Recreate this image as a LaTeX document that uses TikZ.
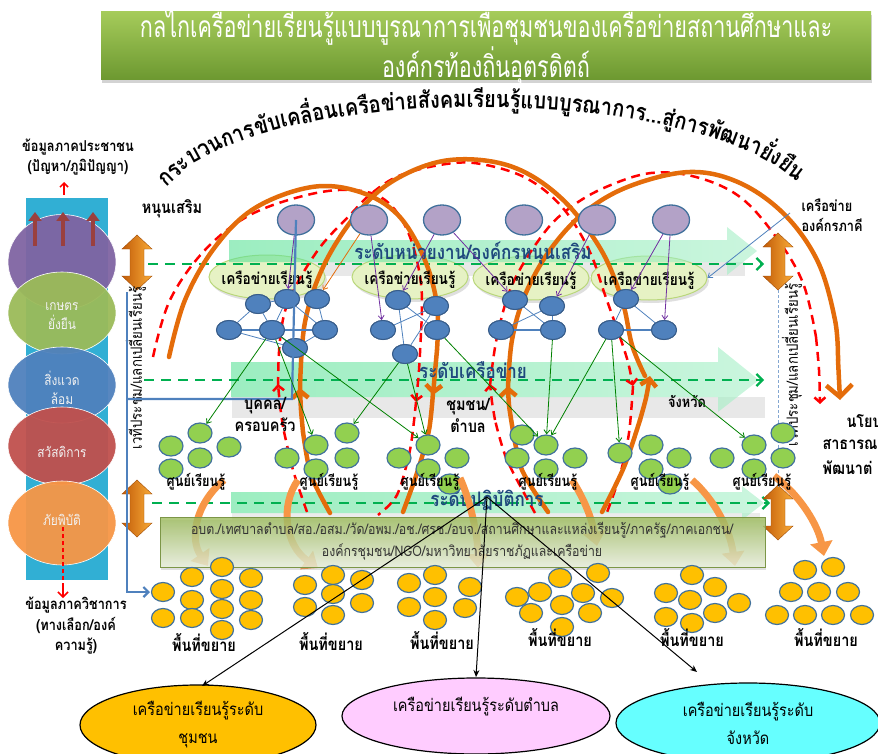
\documentclass[tikz,border=0pt]{standalone}
\usepackage{fontspec}
\setmainfont[Script=Thai]{Loma}
\newfontfamily\thaic[Script=Thai,FakeStretch=0.85]{Loma}
\newfontfamily\thaititle[Script=Thai,FakeStretch=0.72]{Loma}
\usetikzlibrary{arrows.meta,decorations.markings,shapes.geometric,shadows}
\definecolor{titleA}{HTML}{A5CB5A}
\definecolor{titleB}{HTML}{6C9830}
\definecolor{cyanbar}{HTML}{31AFD4}
\definecolor{cpurple}{HTML}{8064A2}
\definecolor{cgreen}{HTML}{9BBB59}
\definecolor{cblue}{HTML}{4F81BD}
\definecolor{cred}{HTML}{C0504D}
\definecolor{corange}{HTML}{F79646}
\definecolor{arcorange}{HTML}{E46C0A}
\definecolor{lilacfill}{HTML}{B3A2C7}
\definecolor{nodeblue}{HTML}{4F81BD}
\definecolor{nodeblueD}{HTML}{385D8A}
\definecolor{leafgreen}{HTML}{92D050}
\definecolor{goldfill}{HTML}{FFC000}
\definecolor{rimblue}{HTML}{41719C}
\definecolor{bandgreen}{HTML}{3DDC84}
\definecolor{bandtext}{HTML}{1F497D}
\definecolor{dashgreen}{HTML}{00B050}
\definecolor{lightleaf}{HTML}{E6F2C4}
\definecolor{leafrim}{HTML}{B9D77A}
\definecolor{olivefill}{HTML}{9BBB59}
\definecolor{pinkfill}{HTML}{FFCCFF}
\definecolor{cyanfill}{HTML}{66FFFF}
\definecolor{darkgreen}{HTML}{008000}
\definecolor{arrowpurple}{HTML}{7030A0}
\definecolor{linkblue}{HTML}{4F81BD}
\newcommand\arcfont{\thaic\bfseries\fontsize{23.5}{25}\selectfont}
\newlength\arcacc
\newlength\arcw
\newcommand\measurechunk[2]{%
  \settowidth\arcw{\arcfont #2}%
  \expandafter\xdef\csname arcpos#1\endcsname{\the\dimexpr\arcacc+0.5\arcw\relax}%
  \global\advance\arcacc by \arcw}
\begin{document}%
\global\arcacc=18pt
\measurechunk{a}{กระ}\measurechunk{b}{บวน}\measurechunk{c}{การ}\measurechunk{d}{ขับ}%
\measurechunk{e}{เคลื่อน}\measurechunk{f}{เครือ}\measurechunk{g}{ข่าย}\measurechunk{h}{สังคม}%
\measurechunk{i}{เรียน}\measurechunk{j}{รู้}\measurechunk{k}{แบบ}\measurechunk{l}{บูรณา}%
\measurechunk{m}{การ...}\measurechunk{n}{สู่}\measurechunk{o}{การ}\measurechunk{p}{พัฒนา}%
\measurechunk{q}{ยั่ง}\measurechunk{r}{ยืน}%
\begin{tikzpicture}[x=1pt,y=-1pt,
  lilac/.style={ellipse, minimum width=37pt, minimum height=30pt, inner sep=0pt, fill=lilacfill, draw=rimblue, line width=1.3pt},
  netnode/.style={ellipse, minimum width=25pt, minimum height=19pt, inner sep=0pt, fill=nodeblue, draw=nodeblueD, line width=1pt},
  leaf/.style={ellipse, minimum width=24pt, minimum height=20pt, inner sep=0pt, fill=leafgreen, draw=rimblue, line width=1.2pt},
  goldc/.style={ellipse, minimum width=23pt, minimum height=19pt, inner sep=0pt, fill=goldfill, draw=rimblue, line width=1.2pt},
  bigcirc/.style={ellipse, minimum width=108pt, inner sep=0pt, draw=white, line width=0.6pt, fill opacity=0.95},
  circtext/.style={font=\thaic\fontsize{14}{17}\selectfont, text=white!90!gray, align=center},
  netnet/.style={draw=linkblue, line width=0.8pt},
  thick net/.style={draw=linkblue, line width=1.8pt},
  purplearrow/.style={draw=arrowpurple, line width=0.8pt, -{Straight Barb[length=4pt,width=6pt]}},
  greenarrow/.style={draw=darkgreen, line width=0.8pt, -{Straight Barb[length=4pt,width=6pt]}},
  arcO/.style={draw=arcorange, line width=4.5pt, line cap=round},
  arcOtip/.style={arcO, -{Straight Barb[length=7pt,width=16pt]}},
  dashR/.style={draw=red, line width=2.5pt, dash pattern=on 9pt off 6pt},
  dashRtip/.style={dashR, -{Straight Barb[length=5pt,width=11pt]}},
  greendash/.style={draw=dashgreen, line width=2.2pt, dash pattern=on 10pt off 7pt},
  greendashtip/.style={greendash, -{Straight Barb[length=6pt,width=12pt]}},
  bandfill/.style={left color=bandgreen!85, right color=bandgreen!45, fill opacity=0.6, draw=none},
  bandlabel/.style={font=\thaic\bfseries\fontsize{20}{22}\selectfont, text=bandtext},
  lvl/.style={font=\thaic\bfseries\fontsize{17}{22}\selectfont, align=center},
  centre/.style={font=\thaic\bfseries\fontsize{15}{17}\selectfont},
  area/.style={font=\thaic\bfseries\fontsize{17}{19}\selectfont},
  smalltxt/.style={font=\thaic\bfseries\fontsize{15}{20.5}\selectfont},
  arct/.style={transform shape, anchor=base, inner sep=0pt, font=\arcfont},
  bendarrow/.style={draw=corange, line width=7pt, -{Triangle[width=22pt,length=14pt]}},
  blackarrow/.style={draw=black, line width=1pt, -{Stealth[length=7pt,width=6pt]}},
  bottomell/.style={ellipse, draw=black, line width=1.2pt, inner sep=0pt, align=center, font=\thaic\fontsize{17}{28}\selectfont}
]
\useasboundingbox (0,0) rectangle (878,754);
\clip (0,0) rectangle (878,754);

% ---------------- title ----------------
\node[draw=none, top color=titleA, bottom color=titleB, minimum width=770pt, minimum height=68pt,
      drop shadow={shadow xshift=1pt, shadow yshift=-3pt, opacity=0.35}] (title) at (486,46) {};
\node[text=white, font=\thaititle\fontsize{30}{38}\selectfont, align=center] (titletext) at (486,46)
  {กลไกเครือข่ายเรียนรู้แบบบูรณาการเพื่อชุมชนของเครือข่ายสถานศึกษาและ\\องค์กรท้องถิ่นอุตรดิตถ์};

% ---------------- curved heading (chunks placed by measured width) ----------------
\path[postaction={decorate, decoration={markings,
  mark=at position \arcposa with {\node[arct] {กระ};},
  mark=at position \arcposb with {\node[arct] {บวน};},
  mark=at position \arcposc with {\node[arct] {การ};},
  mark=at position \arcposd with {\node[arct] {ขับ};},
  mark=at position \arcpose with {\node[arct] {เคลื่อน};},
  mark=at position \arcposf with {\node[arct] {เครือ};},
  mark=at position \arcposg with {\node[arct] {ข่าย};},
  mark=at position \arcposh with {\node[arct] {สังคม};},
  mark=at position \arcposi with {\node[arct] {เรียน};},
  mark=at position \arcposj with {\node[arct] {รู้};},
  mark=at position \arcposk with {\node[arct] {แบบ};},
  mark=at position \arcposl with {\node[arct] {บูรณา};},
  mark=at position \arcposm with {\node[arct] {การ...};},
  mark=at position \arcposn with {\node[arct] {สู่};},
  mark=at position \arcposo with {\node[arct] {การ};},
  mark=at position \arcposp with {\node[arct] {พัฒนา};},
  mark=at position \arcposq with {\node[arct] {ยั่ง};},
  mark=at position \arcposr with {\node[arct] {ยืน};}
  }}] (160,205) .. controls (200,75) and (750,75) .. (815,205);

% ---------------- left column ----------------
\node[smalltxt, align=center] (peopledata) at (78,157) {ข้อมูลภาคประชาชน\\(ปัญหา/ภูมิปัญญา)};
\draw[red, line width=1.5pt, -{Straight Barb[length=4pt,width=8pt]}] (64,195) -- (64,182);
\fill[cyanbar] (26,198) rectangle (108,580);
\node[bigcirc, fill=cpurple, minimum height=95pt] (cpur) at (62,262) {};
\node[bigcirc, fill=cgreen, minimum height=82pt] (cgre) at (62,313) {};
\node[bigcirc, fill=cblue, minimum height=76pt] (cblu) at (62,385) {};
\node[bigcirc, fill=cred, minimum height=78pt] (cre) at (62,446) {};
\node[bigcirc, fill=corange, minimum height=84pt] (cora) at (62,523) {};
\foreach \ax in {35,63,93}
  \draw[draw=cred!80!black, line width=4pt, -{Triangle[width=13pt,length=9pt]}] (\ax,246) -- (\ax,212);
\node[circtext] (t1) at (62,316) {เกษตร\\[2pt]ยั่งยืน};
\node[circtext] (t2) at (62,388) {สิ่งแวด\\[2pt]ล้อม};
\node[circtext] (t3) at (62,452) {สวัสดิการ};
\node[circtext] (t4) at (62,520) {ภัยพิบัติ};
\draw[red, line width=1.5pt, dash pattern=on 4pt off 3pt] (63,527) -- (63,586);
\draw[red, line width=1.5pt, -{Straight Barb[length=5pt,width=10pt]}] (63,586) -- (63,598);
\node[smalltxt, align=center] (acadata) at (76,626) {ข้อมูลภาควิชาการ\\(ทางเลือก/องค์\\ความรู้)};

% ---------------- bands ----------------
\fill[gray, opacity=0.18] (232,262) rectangle (745,276);
\fill[gray, opacity=0.18] (232,397) rectangle (765,418);
\fill[gray, opacity=0.15] (232,513) rectangle (760,520);

\foreach \cx/\cy/\nm in {267/277/L1, 410/277/L2, 531/278/L3, 649/278/L4}
  \node[ellipse, minimum width=116pt, minimum height=44pt, fill=lightleaf, draw=leafrim, line width=1pt,
        drop shadow={shadow xshift=2pt, shadow yshift=-3pt, opacity=0.25}] (\nm) at (\cx,\cy) {};

\path[bandfill] (229,240) -- (727,240) -- (727,227) -- (757,251) -- (727,275) -- (727,262) -- (229,262) -- cycle;
\path[bandfill] (231,362) -- (718,362) -- (718,347) -- (759,380) -- (718,412) -- (718,397) -- (231,397) -- cycle;
\path[bandfill] (231,492) -- (742,492) -- (742,486) -- (764,503) -- (742,520) -- (742,513) -- (231,513) -- cycle;

\draw[greendashtip] (148,264) -- (764,264);
\draw[greendashtip] (144,380) -- (764,380);
\draw[greendashtip] (152,503) -- (770,503);

% ---------------- orange and red loops ----------------
\draw[dashR] plot[smooth, tension=0.6] coordinates {(153,357) (170,300) (205,250) (250,215) (307,195) (352,190) (385,200) (408,232) (421,283) (421,333)};
\draw[dashRtip] plot[smooth] coordinates {(421,333) (419,370) (416,402)};
\draw[dashR] plot[smooth] coordinates {(416,402) (410,450) (397,495) (378,515)};
\draw[dashR] plot[smooth] coordinates {(307,512) (293,470) (283,427)};
\draw[dashRtip] plot[smooth] coordinates {(283,427) (280,405) (278,384)};
\draw[dashR] plot[smooth, tension=0.6] coordinates {(278,386) (280,340) (289,300) (318,250) (350,215) (372,193) (401,175) (446,164) (481,164) (526,178) (562,207) (589,250) (605,295) (620,337)};
\draw[dashRtip] plot[smooth] coordinates {(620,337) (628,362) (633,386)};
\draw[dashR] plot[smooth] coordinates {(633,386) (629,433) (620,475) (606,515)};
\draw[dashR] plot[smooth] coordinates {(535,513) (507,460) (495,420)};
\draw[dashRtip] plot[smooth] coordinates {(495,420) (492,402) (490,384)};
\draw[dashR] plot[smooth, tension=0.6] coordinates {(490,386) (497,337) (513,283) (544,233) (571,207) (606,187) (651,173) (696,177) (740,197) (776,237) (803,283) (816,337)};
\draw[dashRtip] plot[smooth] coordinates {(816,337) (819,370) (820,404)};

\draw[arcO] plot[smooth, tension=0.6] coordinates {(169,357) (185,300) (215,247) (255,208) (312,187) (360,192) (398,215) (424,258) (437,305) (437,350)};
\draw[arcOtip] plot[smooth] coordinates {(437,350) (435,372) (433,395)};
\draw[arcO] plot[smooth] coordinates {(433,393) (429,430) (418,470) (403,512)};
\draw[arcO] plot[smooth] coordinates {(330,513) (311,475) (303,432)};
\draw[arcOtip] plot[smooth] coordinates {(303,432) (301,410) (300,388)};
\draw[arcO] plot[smooth, tension=0.6] coordinates {(300,390) (305,322) (325,263) (360,210) (398,178) (450,160) (510,166) (560,197) (600,248) (622,300) (632,345) (645,376)};
\draw[arcO] plot[smooth] coordinates {(602,512) (624,467) (640,420)};
\draw[arcOtip] plot[smooth] coordinates {(640,420) (646,398) (650,376)};
\draw[arcO] plot[smooth] coordinates {(548,512) (522,470) (512,425)};
\draw[arcOtip] plot[smooth] coordinates {(512,425) (509,405) (508,386)};
\draw[arcO] plot[smooth, tension=0.6] coordinates {(508,388) (512,340) (525,295) (550,250) (585,212) (630,186) (690,172) (740,183) (785,215) (818,262) (835,320) (838,360)};
\draw[arcO, -{Straight Barb[length=12pt,width=26pt]}] plot[smooth] coordinates {(838,360) (839,380) (840,400)};

% ---------------- band labels ----------------
\node[bandlabel] (lvl1) at (473,253) {ระดับหน่วยงาน/องค์กรหนุนเสริม};
\node[bandlabel] (lvl2) at (473,370) {ระดับเครือข่าย};
\node[bandlabel] (lvl3) at (487,500) {ระดับปฏิบัติการ};

\foreach \nm in {L1,L2,L3,L4}
  \node[font=\thaic\bfseries\fontsize{16}{18}\selectfont] at ([yshift=-3pt]\nm.center) {เครือข่ายเรียนรู้};

% ---------------- side arrows and vertical text ----------------
\foreach \xx/\ya/\yb in {137/235/290, 137/480/537, 778/233/290, 778/485/540}{
  \path[left color=arcorange!85!black, right color=corange!80!yellow, draw=arcorange!70!black, line width=0.4pt]
    (\xx,\ya) -- (\xx+15,\ya+14) -- (\xx+7,\ya+14) -- (\xx+7,\yb-14) -- (\xx+15,\yb-14) -- (\xx,\yb)
    -- (\xx-15,\yb-14) -- (\xx-7,\yb-14) -- (\xx-7,\ya+14) -- (\xx-15,\ya+14) -- cycle;
}
\node[font=\thaic\fontsize{15.5}{17}\selectfont, rotate=90] (vtl) at (136,368) {เวทีประชุม/แลกเปลี่ยนเรียนรู้};
\draw[draw=linkblue!70, line width=0.8pt, dash pattern=on 3pt off 2pt] (778,290) -- (778,487);
\node[font=\thaic\fontsize{15.5}{17}\selectfont, rotate=90] (vtr) at (792,365) {เวทีประชุม/แลกเปลี่ยนเรียนรู้};

\node[font=\thaic\bfseries\fontsize{17}{19}\selectfont] (support) at (172,209) {หนุนเสริม};
\node[font=\thaic\bfseries\fontsize{15}{20}\selectfont, anchor=west, align=left] (partner) at (798,215) {เครือข่าย\\องค์กรภาคี};

% ---------------- top nodes ----------------
\foreach \px [count=\i] in {296,369,442,524,597,671}
  \node[lilac] (P\i) at (\px,220) {};

% ---------------- network nodes ----------------
\node[netnode] (A1) at (258,304) {};
\node[netnode] (A2) at (287,299) {};
\node[netnode] (A3) at (317,299) {};
\node[netnode] (A4) at (229,330) {};
\node[netnode] (A5) at (272,330) {};
\node[netnode] (A6) at (325,330) {};
\node[netnode] (A7) at (295,348) {};
\node[netnode] (B1) at (398,300) {};
\node[netnode] (B2) at (436,306) {};
\node[netnode] (B3) at (383,330) {};
\node[netnode] (B4) at (437,330) {};
\node[netnode] (B5) at (405,354) {};
\node[netnode] (C1) at (515,300) {};
\node[netnode] (C2) at (552,306) {};
\node[netnode] (C3) at (501,330) {};
\node[netnode] (C4) at (553,330) {};
\node[netnode] (D1) at (626,299) {};
\node[netnode] (D2) at (611,330) {};
\node[netnode] (D3) at (664,330) {};

\draw[netnet] (A1) -- (A4);
\draw[netnet] (A1) -- (A2);
\draw[netnet] (A2) -- (A5);
\draw[netnet] (A3) -- (A6);
\draw[netnet] (A2) -- (A6);
\draw[netnet] (A1) -- (A5);
\draw[netnet] (A5) -- (A7);
\draw[netnet] (A4) -- (A7);
\draw[netnet] (A6) -- (A7);
\draw[thick net] (A4) -- (A5);
\draw[thick net] (A5) -- (A6);
\draw[netnet] (B1) -- (B5);
\draw[netnet] (B3) -- (B2);
\draw[netnet] (B1) -- (B4);
\draw[netnet] (B2) -- (B5);
\draw[netnet] (C3) -- (C2);
\draw[netnet] (C1) -- (C4);
\draw[netnet] (C2) -- (C4);
\draw[thick net] (C3) -- (C4);
\draw[netnet] (D1) -- (D2);
\draw[netnet] (D1) -- (D3);
\draw[thick net] (D2) -- (D3);
\foreach \nm in {A1,A2,A3,A4,A5,A6,A7,B1,B2,B3,B4,B5,C1,C2,C3,C4,D1,D2,D3}
  \node[netnode] at (\nm.center) {};

% blue feedback line
\coordinate (bl1) at (292,399);
\coordinate (bl2) at (127,399);
\coordinate (bl3) at (127,292);
\coordinate (bl4) at (127,592);
\coordinate (bl5) at (150,592);
\draw[draw=linkblue, line width=2.2pt] (P1.center) -- (bl1) -- (bl2);
\draw[draw=linkblue, line width=2.2pt, -{Straight Barb[length=5pt,width=10pt]}] (bl3) -- (bl4) -- (bl5);

% arrows from top nodes
\draw[purplearrow] (P1) -- (A2);
\draw[draw=arcorange, line width=0.8pt, -{Straight Barb[length=4pt,width=6pt]}] (P2) -- (A3);
\draw[purplearrow] (P2) -- (B3);
\draw[purplearrow] (P3) -- (B1);
\draw[purplearrow] (P3) -- (C1);
\draw[purplearrow] (P5) -- (C2);
\draw[purplearrow] (P6) -- (D1);
\draw[purplearrow] (P6) -- (D3);
\coordinate (partnerfrom) at (790,213);
\draw[draw=linkblue, line width=0.8pt, -{Straight Barb[length=4pt,width=6pt]}] (partnerfrom) -- (L4.east);

% ---------------- level words ----------------
\node[lvl] (lv1) at (265,414) {บุคคล/\\ครอบครัว};
\node[lvl] (lv2) at (468,415) {ชุมชน/\\ตำบล};
\node[lvl, font=\thaic\bfseries\fontsize{15}{17}\selectfont] (lv3) at (687,401) {จังหวัด};
\node[lvl, anchor=west] (pol1) at (843,421) {นโยบ};
\node[lvl, anchor=west] (pol2) at (819,445) {สาธารณ};
\node[lvl, anchor=west] (pol3) at (819,468) {พัฒนาต่};

% ---------------- green circles ----------------
\foreach \gx/\gy [count=\i] in {200/433, 171/446, 229/447, 200/458, 171/469,
   287/458, 316/445, 347/433, 347/458, 316/469,
   399/458, 428/445, 457/458, 428/469, 450/484,
   522/435, 546/445, 517/458, 575/458, 546/469,
   620/453, 651/445, 679/458, 651/469, 670/484,
   722/458, 754/445, 783/433, 783/458, 754/469}
  \node[leaf] (G\i) at (\gx,\gy) {};

\draw[greenarrow] (A5) -- (G1);
\draw[greenarrow] (A5) -- (G7);
\draw[greenarrow] (A5) -- (G12);
\draw[greenarrow] (B5) -- (G8);
\draw[greenarrow] (B5) -- (G12);
\draw[greenarrow] (B4) -- (G17);
\draw[greenarrow] (C4) -- (G17);
\draw[greenarrow] (D2) -- (G17);
\draw[greenarrow] (D2) -- (G21);
\draw[greenarrow] (D2) -- (G27);

% ---------------- bending arrows and partner band ----------------
\coordinate (ba1s) at (224,480); \coordinate (ba1e) at (208,566);
\coordinate (ba2s) at (298,480); \coordinate (ba2e) at (318,568);
\coordinate (ba3s) at (460,478); \coordinate (ba3e) at (478,568);
\coordinate (ba4s) at (572,480); \coordinate (ba4e) at (597,546);
\coordinate (ba5s) at (692,480); \coordinate (ba5e) at (735,566);
\coordinate (ba6s) at (774,476); \coordinate (ba6e) at (824,556);
\draw[bendarrow] (ba1s) .. controls (194,505) and (190,540) .. (ba1e);
\draw[bendarrow] (ba2s) .. controls (280,505) and (285,545) .. (ba2e);
\draw[bendarrow] (ba3s) .. controls (470,500) and (478,535) .. (ba3e);
\draw[bendarrow] (ba4s) .. controls (585,500) and (592,520) .. (ba4e);
\draw[bendarrow] (ba5s) .. controls (715,500) and (730,530) .. (ba5e);
\draw[bendarrow] (ba6s) .. controls (800,495) and (818,525) .. (ba6e);

\foreach \lx [count=\i] in {196,329,430,548,660,762}
  \node[centre] (LC\i) at (\lx,482) {ศูนย์เรียนรู้};

\path[top color=olivefill, bottom color=olivefill!20, fill opacity=0.8, draw=olivefill!80!black, line width=0.5pt,
      drop shadow={shadow xshift=1pt, shadow yshift=-3pt, opacity=0.25}] (160,517) rectangle (765,567);
\node[font=\thaic\fontsize{14.5}{22}\selectfont, text=black!80, align=center] (partners) at (462,541)
  {อบต./เทศบาลตำบล/สอ./อสม./วัด/อพม./อช./ศรช./อบจ./สถานศึกษาและแหล่งเรียนรู้/ภาครัฐ/ภาคเอกชน/\\องค์กรชุมชน/NGO/มหาวิทยาลัยราชภัฏและเครือข่าย};

% ---------------- yellow circles ----------------
\foreach \yx/\yy in {163/592, 192/577, 222/567, 251/578, 192/600, 222/589, 251/600, 163/618, 192/618, 222/609, 251/620, 222/630,
   305/585, 333/575, 362/580, 305/607, 333/594, 362/603, 333/615,
   409/583, 435/575, 470/587, 409/607, 435/597, 465/608, 435/620,
   517/597, 540/592, 560/578, 598/573, 583/593, 612/598, 531/613, 562/605, 590/613, 562/627,
   666/593, 692/575, 715/587, 739/603, 690/600, 666/617, 715/613, 692/623,
   805/570, 833/567, 791/592, 819/592, 848/592, 777/615, 805/615, 833/615, 862/615}
  \node[goldc] at (\yx,\yy) {};

\foreach \ex/\ey [count=\i] in {204/643, 331/642, 442/641, 560/638, 692/638, 826/638}
  \node[area] (E\i) at (\ex,\ey) {พื้นที่ขยาย};

% ---------------- bottom ellipses ----------------
\node[bottomell, fill=goldfill, minimum width=236pt, minimum height=80pt] (ell1) at (198,725) {เครือข่ายเรียนรู้ระดับ\\ชุมชน};
\node[bottomell, fill=pinkfill, minimum width=268pt, minimum height=76pt] (ell2) at (476,716) {};
\node[font=\thaic\fontsize{17}{19}\selectfont] (ell2t) at (476,707) {เครือข่ายเรียนรู้ระดับตำบล};
\node[bottomell, fill=cyanfill, minimum width=264pt, minimum height=80pt] (ell3) at (748,723) {เครือข่ายเรียนรู้ระดับ\\จังหวัด};

\coordinate (hub) at (487,497);
\coordinate (end1) at (202,686);
\coordinate (end2) at (476,677);
\coordinate (end3) at (697,672);
\draw[blackarrow] (hub) -- (end1);
\draw[blackarrow] (hub) -- (end2);
\draw[blackarrow] (hub) -- (end3);
\end{tikzpicture}%
\end{document}
